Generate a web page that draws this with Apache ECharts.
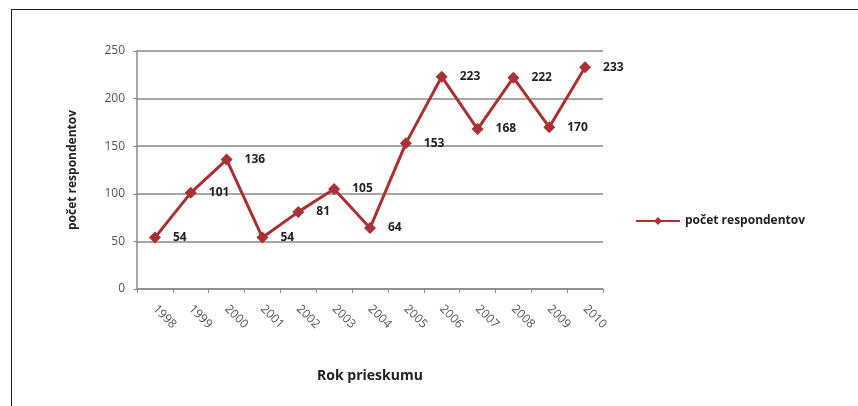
<!DOCTYPE html>
<html><head><meta charset="utf-8">
<script src="https://cdn.jsdelivr.net/npm/echarts@6/dist/echarts.min.js"></script>
<style>html,body{margin:0;padding:0;background:#fff}#c{width:858px;height:406px}
#frame{position:absolute;left:11px;top:9px;width:860px;height:420px;border-left:1.5px solid #222;border-top:1.5px solid #222;pointer-events:none}</style>
</head><body><div id="c"></div><div id="frame"></div>
<script>
const years = ['1998','1999','2000','2001','2002','2003','2004','2005','2006','2007','2008','2009','2010'];
const respondents = [54,101,136,54,81,105,64,153,223,168,222,170,233];
const yTicks = [0,50,100,150,200,250];
const seriesName = 'počet respondentov';
const chart = echarts.init(document.getElementById('c'));
const F = 'Open Sans, Liberation Sans, sans-serif';
chart.setOption({
  animation:false,
  textStyle:{fontFamily:F},
  grid:{left:137,right:255,top:51,bottom:117},
  legend:{data:[seriesName],left:630,top:210,itemWidth:44,itemHeight:10,itemGap:4,
    textStyle:{fontFamily:F,fontWeight:'bold',fontSize:12,color:'#222'}},
  xAxis:{type:'category',data:years,boundaryGap:true,
    name:'Rok prieskumu',nameLocation:'middle',nameGap:80,
    nameTextStyle:{fontFamily:F,fontWeight:'bold',fontSize:14,color:'#222'},
    axisLine:{lineStyle:{color:'#8a8a8a',width:1.5}},
    axisTick:{show:true,length:4,inside:false,lineStyle:{color:'#8a8a8a'}},
    axisLabel:{rotate:-45,margin:18,fontSize:12,color:'#555',fontFamily:F}},
  yAxis:{type:'value',min:0,max:250,interval:50,
    name:'počet respondentov',nameLocation:'middle',nameGap:58,nameRotate:90,
    nameTextStyle:{fontFamily:F,fontWeight:'bold',fontSize:12,color:'#222'},
    axisLine:{show:true,lineStyle:{color:'#8a8a8a',width:1.5}},
    axisTick:{show:true,length:4,lineStyle:{color:'#8a8a8a'}},
    splitLine:{lineStyle:{color:'#8a8a8a',width:1.5}},
    axisLabel:{fontSize:12,color:'#555',margin:12,fontFamily:F,
      formatter:v=>yTicks.includes(v)?String(v):''}},
  series:[{name:seriesName,type:'line',data:respondents,
    symbol:'diamond',symbolSize:12,
    lineStyle:{color:'#ab3036',width:3},
    itemStyle:{color:'#ab3036'},
    label:{show:true,position:'right',distance:12,fontSize:12,fontWeight:'bold',color:'#222',fontFamily:F}}]
});
</script></body></html>
